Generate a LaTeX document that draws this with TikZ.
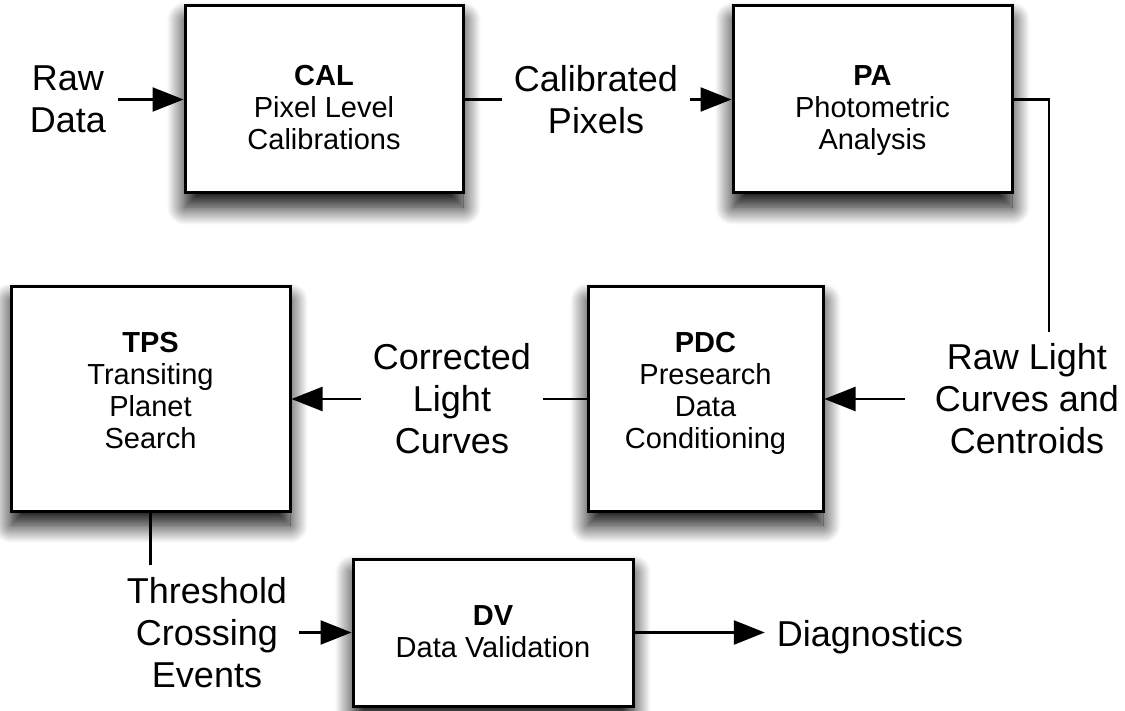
\documentclass[tikz,border=0pt]{standalone}
\usepackage{fontspec}
\setmainfont{Liberation Sans}
\usetikzlibrary{arrows.meta,shadows.blur}
\begin{document}
\begin{tikzpicture}[x=1pt,y=-1pt,
  box/.style={draw=black, line width=3pt, fill=white, inner sep=0pt,
    blur shadow={shadow xshift=0pt, shadow yshift=-14pt, shadow blur radius=18pt, shadow blur steps=24, shadow opacity=100}},
  boxtext/.style={align=center, font=\fontsize{29}{32}\selectfont, inner sep=0pt},
  lbl/.style={align=center, font=\fontsize{36}{42}\selectfont, inner sep=12pt},
  conn/.style={line width=2.5pt},
  arr/.style={conn, -{Triangle[length=31pt,width=24pt]}}]
\useasboundingbox (0,0) rectangle (1125,711);
% boxes
\node[box, minimum width=278pt, minimum height=187pt] (cal) at (324,99.5) {};
\node[box, minimum width=279pt, minimum height=187pt] (pa) at (872.5,99.5) {};
\node[box, minimum width=279pt, minimum height=224pt] (tps) at (150.5,399) {};
\node[box, minimum width=235pt, minimum height=224pt] (pdc) at (705.5,399) {};
\node[box, minimum width=280pt, minimum height=147pt] (dv) at (493,632.5) {};
% box texts
\node[boxtext] (caltxt) at (324,107.5) {\textbf{CAL}\\Pixel Level\\Calibrations};
\node[boxtext] (patxt) at (872.5,110.5) {\textbf{PA}\\Photometric\\Analysis};
\node[boxtext] (tpstxt) at (150.5,390.5) {\textbf{TPS}\\Transiting\\Planet\\Search};
\node[boxtext] (pdctxt) at (705.5,393.5) {\textbf{PDC}\\Presearch\\Data\\Conditioning};
\node[boxtext] (dvtxt) at (493,631.5) {\textbf{DV}\\Data Validation};
% labels
\node[lbl] (rawdata) at (68,99.5) {Raw\\Data};
\node[lbl] (calpix) at (596,99.5) {Calibrated\\Pixels};
\node[lbl] (rawlc) at (1027,399) {Raw Light\\Curves and\\Centroids};
\node[lbl] (corr) at (452,399) {Corrected\\Light\\Curves};
\node[lbl] (thr) at (207,632.5) {Threshold\\Crossing\\Events};
\node[lbl, anchor=base] (diag) at (870,646) {Diagnostics};
% connectors
\draw[arr] (rawdata.east) -- (cal.west);
\draw[conn] (cal.east) -- (calpix.west);
\draw[arr] (calpix.east) -- (pa.west);
\draw[conn] (pa.east) -| ([xshift=22pt]rawlc.north);
\draw[arr] ([xshift=-18pt]rawlc.west) -- (pdc.east);
\draw[conn] (pdc.west) -- (corr.east);
\draw[arr] (corr.west) -- (tps.east);
\draw[conn] (tps.south) -- (tps.south |- thr.north);
\draw[arr] (thr.east) -- (dv.west);
\draw[arr] (dv.east) -- (dv.east -| diag.west);
\end{tikzpicture}
\end{document}
